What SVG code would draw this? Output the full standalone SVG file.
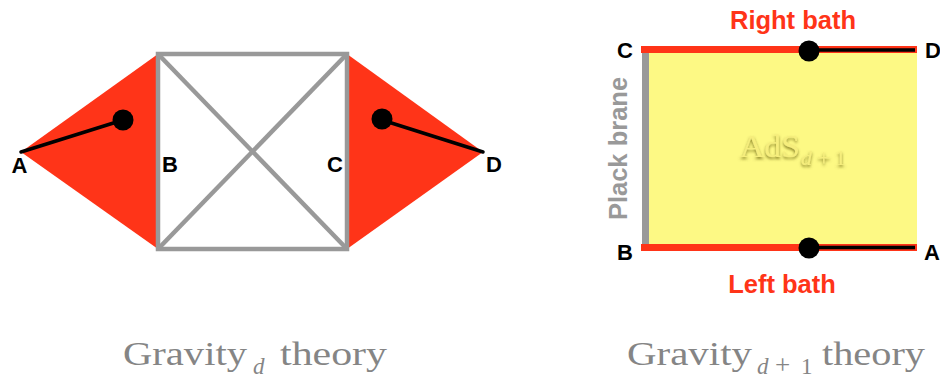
<svg xmlns="http://www.w3.org/2000/svg" width="940" height="379" viewBox="0 0 940 379">
<style>
.lbl{font-family:"Liberation Sans",Arial,sans-serif;font-weight:bold;font-size:22px;fill:#000}
.bath{font-family:"Liberation Sans",Arial,sans-serif;font-weight:bold;font-size:25.5px;fill:#ff3418}
.cap{font-family:"Liberation Serif","Times New Roman",serif;font-size:34px;fill:#858585}
.sub{font-family:"Liberation Serif","Times New Roman",serif;font-size:23px;fill:#858585}
.it{font-style:italic}
.gray{stroke:#999;stroke-width:4.5;fill:none}
.red{fill:#ff3418}
.blk{stroke:#000;stroke-width:3.5;stroke-linecap:round}
</style>
<defs>
<filter id="glow" x="-20%" y="-50%" width="140%" height="200%">
<feGaussianBlur in="SourceAlpha" stdDeviation="1.8" result="b"/>
<feOffset in="b" dy="1.5" result="o"/>
<feFlood flood-color="#5e5708" flood-opacity="0.75"/>
<feComposite in2="o" operator="in" result="s"/>
<feMerge><feMergeNode in="s"/><feMergeNode in="SourceGraphic"/></feMerge>
</filter>
</defs>

<g id="left-diagram">
<polygon class="red" points="21,152 158,54 158,249"/>
<polygon class="red" points="483,152 347,54 347,249"/>
<rect class="gray" x="158" y="54" width="189" height="195"/>
<line class="gray" x1="158" y1="54" x2="347" y2="249"/>
<line class="gray" x1="347" y1="54" x2="158" y2="249"/>
</g>

<g id="connectors">
<line class="blk" x1="21" y1="152" x2="123" y2="120"/>
<line class="blk" x1="483" y1="152" x2="382" y2="120"/>
</g>

<g id="dot-left"><circle cx="123" cy="120" r="10.5" fill="#000"/></g>
<g id="dot-right"><circle cx="382" cy="119" r="10.5" fill="#000"/></g>

<g id="labels-left">
<text class="lbl" x="19.5" y="173" text-anchor="middle">A</text>
<text class="lbl" x="170" y="172" text-anchor="middle">B</text>
<text class="lbl" x="335" y="172" text-anchor="middle">C</text>
<text class="lbl" x="494" y="172" text-anchor="middle">D</text>
</g>

<g id="right-diagram">
<rect x="645" y="50" width="272" height="198" fill="#fdf984"/>
<line x1="645.5" y1="50" x2="645.5" y2="246" stroke="#999" stroke-width="7"/>
<line x1="641" y1="49.5" x2="917" y2="49.5" stroke="#ff3418" stroke-width="7"/>
<line x1="641" y1="247.5" x2="917" y2="247.5" stroke="#ff3418" stroke-width="7"/>
<line x1="809" y1="50" x2="915" y2="50" stroke="#000" stroke-width="3.5"/>
<line x1="809" y1="247.5" x2="915" y2="247.5" stroke="#000" stroke-width="3.5"/>
</g>
<g id="dot-top"><circle cx="809" cy="51" r="10.5" fill="#000"/></g>
<g id="dot-bottom"><circle cx="809" cy="248" r="10.5" fill="#000"/></g>

<g id="labels-right">
<text class="lbl" x="625" y="58" text-anchor="middle">C</text>
<text class="lbl" x="925" y="58">D</text>
<text class="lbl" x="625" y="260" text-anchor="middle">B</text>
<text class="lbl" x="924" y="260">A</text>
<text class="bath" x="793" y="29" text-anchor="middle">Right bath</text>
<text class="bath" x="782" y="293" text-anchor="middle">Left bath</text>
<text x="627" y="148.5" text-anchor="middle" transform="rotate(-90 627 148.5)" style="font-family:'Liberation Sans',Arial,sans-serif;font-weight:bold;font-size:25.5px;fill:#999">Plack brane</text>
</g>

<g id="ads-label" filter="url(#glow)" fill="#f6ee7c">
<text x="740" y="157" textLength="60" lengthAdjust="spacingAndGlyphs" style="font-family:'Liberation Serif',serif;font-size:32px">AdS</text>
<text x="801" y="165" style="font-family:'Liberation Serif',serif;font-size:22px;font-style:italic">d</text>
<text x="817" y="165" style="font-family:'Liberation Serif',serif;font-size:24px">+</text>
<text x="835" y="165" style="font-family:'Liberation Serif',serif;font-size:22px">1</text>
</g>

<g id="captions">
<text class="cap" x="123" y="365" textLength="124" lengthAdjust="spacingAndGlyphs">Gravity</text>
<text class="sub it" x="253" y="374">d</text>
<text class="cap" x="280" y="365" textLength="107" lengthAdjust="spacingAndGlyphs">theory</text>
<text class="cap" x="627" y="365" textLength="125" lengthAdjust="spacingAndGlyphs">Gravity</text>
<text class="sub it" x="757" y="374">d</text>
<text class="sub" x="775" y="374" style="font-size:27px">+</text>
<text class="sub" x="801" y="374">1</text>
<text class="cap" x="822" y="365" textLength="103" lengthAdjust="spacingAndGlyphs">theory</text>
</g>
</svg>
